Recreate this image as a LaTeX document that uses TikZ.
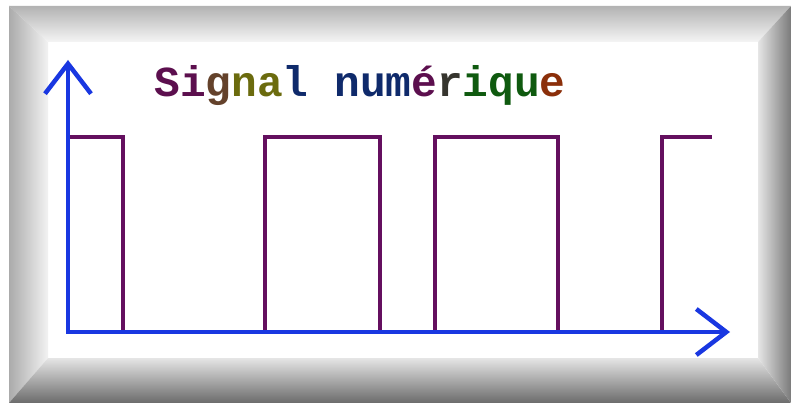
\documentclass[tikz,border=0pt]{standalone}
\usepackage{fontspec}
\newfontfamily\sigfont{Liberation Mono}
\usetikzlibrary{arrows.meta}
\definecolor{sigpurple}{RGB}{92,15,78}
\definecolor{sigolive}{RGB}{107,107,14}
\definecolor{sigblue}{RGB}{15,42,107}
\definecolor{siggreen}{RGB}{15,90,15}
\definecolor{sigbrown}{RGB}{139,47,10}
\definecolor{axisblue}{RGB}{25,55,225}
\definecolor{wavepurple}{RGB}{100,15,95}

\begin{document}
\begin{tikzpicture}[x=1pt,y=-1pt,
  axis/.style={axisblue,line width=4.5pt,-{Straight Barb[length=30pt,width=46pt]}},
  wave/.style={wavepurple,line width=4.5pt},
  title/.style={inner sep=0pt,anchor=base,font=\sigfont\bfseries\fontsize{42.8}{46}\selectfont}]
\useasboundingbox[fill=white] (0,0) rectangle (791,403);
% bevelled frame
\fill[white] (48,42) rectangle (758,358);
\shade[top color=black!30,bottom color=black!4] (9,6) -- (791,6) -- (758,42) -- (48,42) -- cycle;
\shade[left color=black!33,right color=black!5] (9,6) -- (48,42) -- (48,358) -- (9,403) -- cycle;
\shade[top color=black!10,bottom color=black!58] (48,358) -- (758,358) -- (791,403) -- (9,403) -- cycle;
\shade[left color=black!10,right color=black!52] (758,42) -- (791,6) -- (791,403) -- (758,358) -- cycle;
% pulses
\draw[wave] (68,137) -- (123,137) -- (123,332);
\foreach \a/\b in {265/380,435/558}
  \draw[wave] (\a,332) |- (\b,137) -- (\b,332);
\draw[wave] (662,332) |- (712,137);
% axes
\coordinate (O) at (68,332);
\coordinate (ytip) at (68,60);
\coordinate (xtip) at (730,332);
\draw[axis] ([yshift=2pt]O) -- (ytip);
\draw[axis] ([xshift=-2pt]O) -- (xtip);
\node[title] (titre) at (360,97) {\textcolor{sigpurple}{Si}\textcolor{sigpurple!45!sigolive}{g}\textcolor{sigolive}{na}\textcolor{sigblue}{l} \textcolor{sigblue}{num}\textcolor{sigpurple}{é}\textcolor{sigpurple!50!siggreen}{r}\textcolor{siggreen}{iqu}\textcolor{sigbrown}{e}};
\end{tikzpicture}
\end{document}
